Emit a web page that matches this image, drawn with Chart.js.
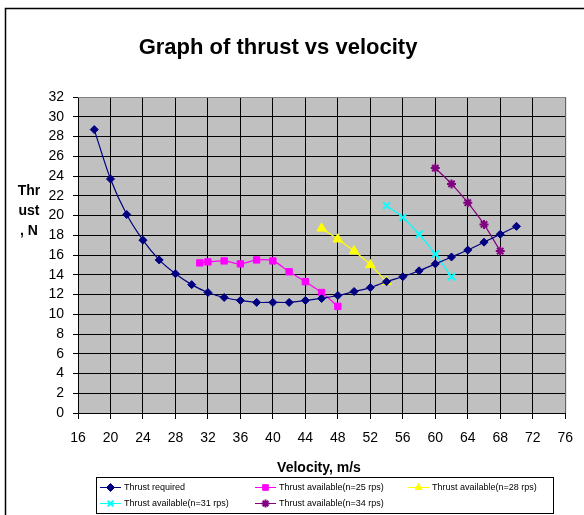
<!DOCTYPE html>
<html>
<head>
<meta charset="utf-8">
<script src="https://cdn.jsdelivr.net/npm/chart.js@4/dist/chart.umd.min.js"></script>
<style>
  html, body { margin: 0; padding: 0; background: #fff; }
</style>
</head>
<body>
<canvas id="myChart" width="584" height="515"></canvas>
<script>
// velocity (m/s) and thrust (N)
var reqVelocity = [18, 20, 22, 24, 26, 28, 30, 32, 34, 36, 38, 40, 42, 44, 46, 48, 50, 52, 54, 56, 58, 60, 62, 64, 66, 68, 70];
var reqThrust = [28.7, 23.7, 20.1, 17.5, 15.5, 14.1, 13.0, 12.2, 11.7, 11.4, 11.2, 11.2, 11.2, 11.4, 11.6, 11.9, 12.3, 12.7, 13.3, 13.8, 14.4, 15.1, 15.8, 16.5, 17.3, 18.1, 18.9];

var n25Velocity = [31, 32, 34, 36, 38, 40, 42, 44, 46, 48];
var n25Thrust = [15.2, 15.3, 15.4, 15.1, 15.5, 15.4, 14.3, 13.3, 12.2, 10.8];

var n28Velocity = [46, 48, 50, 52, 54];
var n28Thrust = [18.7, 17.6, 16.4, 15.0, 13.3];

var n31Velocity = [54, 56, 58, 60, 62];
var n31Thrust = [21.0, 19.8, 18.1, 16.1, 13.8];

var n34Velocity = [60, 62, 64, 66, 68];
var n34Thrust = [24.8, 23.2, 21.3, 19.1, 16.4];

var seriesNames = [
  "Thrust required",
  "Thrust available(n=25 rps)",
  "Thrust available(n=28 rps)",
  "Thrust available(n=31 rps)",
  "Thrust available(n=34 rps)"
];

var xTickRange = [16, 76, 4];
var yTickRange = [0, 32, 2];

var chartTitle = "Graph of thrust vs velocity";
var xTitle = "Velocity, m/s";
var yTitleLines = ["Thr", "ust", ", N"];

function pts(xs, ys) {
  return xs.map(function (x, i) { return { x: x, y: ys[i] }; });
}

var FONT = '"Liberation Sans", Arial, sans-serif';

function series(label, xs, ys, color, style, radius, bw) {
  return {
    label: label,
    data: pts(xs, ys),
    showLine: true,
    borderColor: color,
    backgroundColor: color,
    borderWidth: 1.2,
    tension: 0.3,
    pointStyle: style,
    pointRadius: radius,
    pointBorderWidth: bw,
    pointBorderColor: color,
    pointBackgroundColor: color
  };
}

var decor = {
  id: "decor",
  beforeDraw: function (chart) {
    var ctx = chart.ctx, a = chart.chartArea;
    ctx.save();
    ctx.fillStyle = "#fff";
    ctx.fillRect(0, 0, chart.width, chart.height);
    ctx.fillStyle = "#c0c0c0";
    ctx.fillRect(a.left, a.top, a.right - a.left, a.bottom - a.top);
    ctx.restore();
  },
  afterDraw: function (chart) {
    var ctx = chart.ctx, a = chart.chartArea;
    ctx.save();
    // plot frame
    ctx.strokeStyle = "#808080";
    ctx.lineWidth = 1;
    ctx.beginPath();
    ctx.moveTo(a.left, a.top + 0.5);
    ctx.lineTo(a.right + 0.5, a.top + 0.5);
    ctx.lineTo(a.right + 0.5, a.bottom);
    ctx.stroke();
    // outer chart border (right / bottom fall outside the picture)
    ctx.strokeStyle = "#000";
    ctx.lineWidth = 1.5;
    ctx.strokeRect(5.5, 8.5, 700, 700);

    ctx.fillStyle = "#000";
    ctx.textAlign = "center";
    ctx.textBaseline = "middle";
    ctx.font = "bold 22px " + FONT;
    ctx.fillText(chartTitle, 278, 48);

    ctx.font = "bold 14px " + FONT;
    ctx.fillText(xTitle, 319, 468);
    yTitleLines.forEach(function (t, i) {
      ctx.fillText(t, 29, 191 + i * 20);
    });

    // legend
    var box = { x: 96, y: 477, w: 457, h: 36 };
    ctx.fillStyle = "#fff";
    ctx.fillRect(box.x, box.y, box.w, box.h);
    ctx.strokeStyle = "#000";
    ctx.lineWidth = 1;
    ctx.strokeRect(box.x + 0.5, box.y + 0.5, box.w, box.h);
    var cols = [100, 255, 408];
    var rows = [487, 503];
    ctx.font = "9px " + FONT;
    ctx.textAlign = "left";
    chart.data.datasets.forEach(function (ds, i) {
      var x = cols[i % 3], y = rows[Math.floor(i / 3)];
      ctx.strokeStyle = ds.borderColor;
      ctx.lineWidth = 1;
      ctx.beginPath();
      ctx.moveTo(x, y + 0.5);
      ctx.lineTo(x + 21, y + 0.5);
      ctx.stroke();
      ctx.fillStyle = ds.pointBackgroundColor;
      ctx.lineWidth = ds.pointBorderWidth;
      Chart.helpers.drawPoint(ctx, {
        pointStyle: ds.pointStyle,
        radius: Math.min(ds.pointRadius, 4),
        borderWidth: ds.pointBorderWidth,
        rotation: 0
      }, x + 10.5, y + 0.5);
      ctx.fillStyle = "#000";
      ctx.fillText(ds.label, x + 24, y + 1);
    });
    ctx.restore();
  }
};

var ctx = document.getElementById("myChart").getContext("2d");
var chart = new Chart(ctx, {
  type: "scatter",
  data: {
    datasets: [
      series(seriesNames[0], reqVelocity, reqThrust, "#000080", "rectRot", 4, 1),
      series(seriesNames[1], n25Velocity, n25Thrust, "#ff00ff", "rect", 4.5, 1),
      series(seriesNames[2], n28Velocity, n28Thrust, "#ffff00", "triangle", 5.5, 1),
      series(seriesNames[3], n31Velocity, n31Thrust, "#00ffff", "crossRot", 5, 2),
      series(seriesNames[4], n34Velocity, n34Thrust, "#800080", "star", 4.5, 2)
    ]
  },
  options: {
    responsive: false,
    animation: false,
    devicePixelRatio: 1,
    layout: { padding: { top: 97, left: 0, right: 13, bottom: 72 } },
    plugins: {
      legend: { display: false },
      title: { display: false },
      tooltip: { enabled: false }
    },
    scales: {
      x: {
        type: "linear",
        min: xTickRange[0],
        max: xTickRange[1],
        afterFit: function (s) { s.height = 30; },
        ticks: {
          stepSize: xTickRange[2],
          autoSkip: false,
          color: "#000",
          padding: 11,
          maxRotation: 0,
          font: { family: FONT, size: 14 }
        },
        grid: { color: "#000", lineWidth: 1, tickLength: 6, tickColor: "#000" },
        border: { color: "#000", width: 1 }
      },
      y: {
        min: yTickRange[0],
        max: yTickRange[1],
        afterFit: function (s) { s.width = 78; },
        ticks: {
          stepSize: yTickRange[2],
          autoSkip: false,
          color: "#000",
          padding: 9,
          font: { family: FONT, size: 14 }
        },
        grid: { color: "#000", lineWidth: 1, tickLength: 5, tickColor: "#000" },
        border: { color: "#000", width: 1 }
      }
    }
  },
  plugins: [decor]
});
</script>
</body>
</html>
